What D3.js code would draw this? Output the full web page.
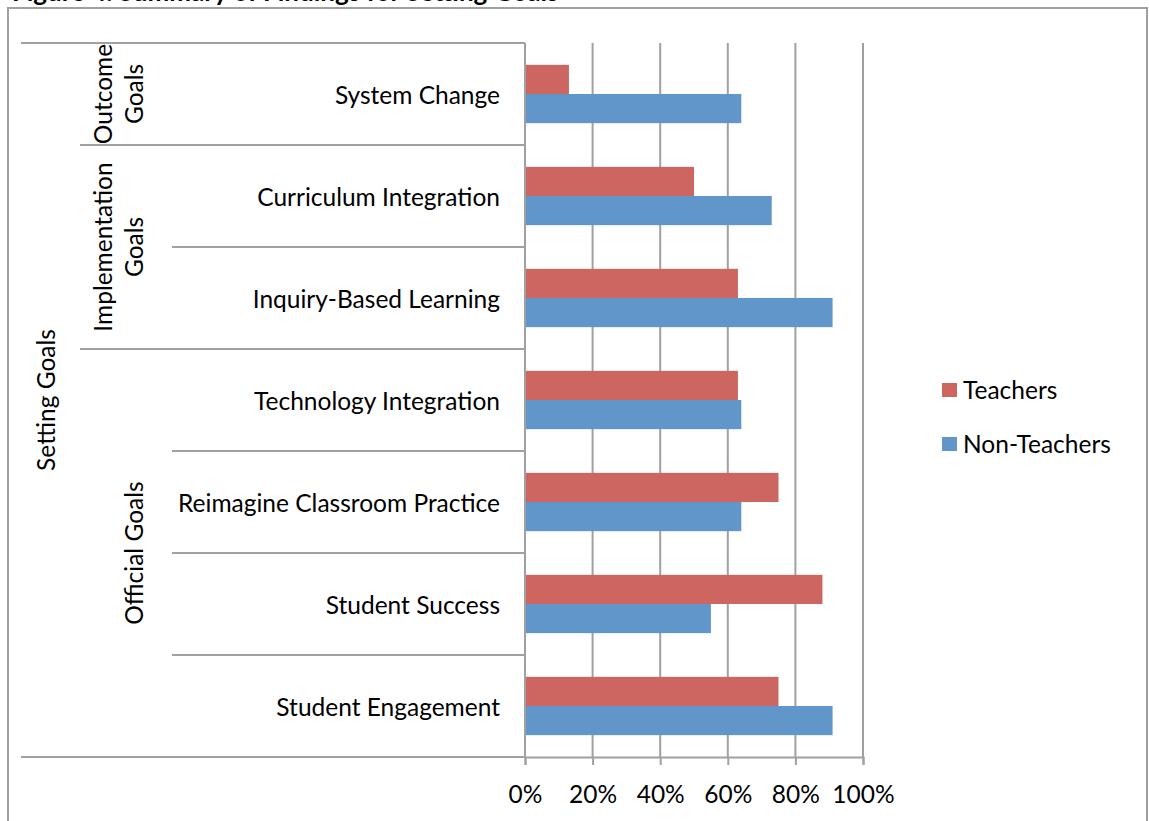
<!DOCTYPE html>
<html>
<head>
<meta charset="utf-8">
<script src="https://cdn.jsdelivr.net/npm/d3@7"></script>
<style>
  body { margin: 0; background: #fff; }
  svg { display: block; font-family: Lato, "Open Sans", sans-serif; }
  .lbl { font-size: 24.5px; fill: #000; }
</style>
</head>
<body>
<script>
// Chart data
var categories = ["System Change", "Curriculum Integration", "Inquiry-Based Learning",
  "Technology Integration", "Reimagine Classroom Practice", "Student Success", "Student Engagement"];
var teachers = [0.13, 0.50, 0.63, 0.63, 0.75, 0.88, 0.75];
var nonTeachers = [0.64, 0.73, 0.91, 0.64, 0.64, 0.55, 0.91];
var seriesNames = ["Teachers", "Non-Teachers"];
var groups = [
  {lines: ["Outcome", "Goals"], first: "System Change", last: "System Change"},
  {lines: ["Implementation", "Goals"], first: "Curriculum Integration", last: "Inquiry-Based Learning"},
  {lines: ["Official Goals"], first: "Technology Integration", last: "Student Engagement"}
];
var outerLabel = "Setting Goals";
var tickValues = [0, 0.2, 0.4, 0.6, 0.8, 1.0];
var title = "Figure 4. Summary of Findings for Setting Goals";

var W = 1149, H = 821;
var colors = {"Teachers": "#cd6560", "Non-Teachers": "#6096c9"};
var gridColor = "#a0a0a0";

var svg = d3.select("body").append("svg")
  .attr("width", W)
  .attr("height", H);

// title sits above the frame, mostly cut off like the source
svg.append("text")
  .attr("x", 12)
  .attr("y", 1)
  .style("font-size", "26px")
  .style("font-weight", "bold")
  .text(title);

// chart frame
svg.append("rect")
  .attr("x", 8).attr("y", 8)
  .attr("width", W - 10).attr("height", H + 20)
  .attr("fill", "#fff")
  .attr("stroke", gridColor)
  .attr("stroke-width", 2);

var plot = {left: 525, right: 863, top: 43, bottom: 757};

var x = d3.scaleLinear().domain([0, 1]).range([plot.left, plot.right]);
var y = d3.scaleBand().domain(categories).range([plot.top, plot.bottom]);
var inner = d3.scaleBand().domain(seriesNames).range([0, y.bandwidth()]).paddingOuter(0.75);

// vertical gridlines
svg.append("g")
  .selectAll("line")
  .data(tickValues)
  .join("line")
    .attr("x1", function(d) { return x(d); })
    .attr("x2", function(d) { return x(d); })
    .attr("y1", plot.top)
    .attr("y2", plot.bottom)
    .attr("stroke", gridColor)
    .attr("stroke-width", 2);

// bars
var rows = categories.map(function(c, i) {
  return {cat: c, values: [{s: "Teachers", v: teachers[i]}, {s: "Non-Teachers", v: nonTeachers[i]}]};
});
var rowG = svg.append("g").selectAll("g")
  .data(rows)
  .join("g")
    .attr("transform", function(d) { return "translate(0," + y(d.cat) + ")"; });
rowG.selectAll("rect")
  .data(function(d) { return d.values; })
  .join("rect")
    .attr("x", x(0) + 1)
    .attr("y", function(d) { return inner(d.s); })
    .attr("width", function(d) { return x(d.v) - x(0) - 1; })
    .attr("height", inner.bandwidth())
    .attr("fill", function(d) { return colors[d.s]; });

// x axis
var xAxis = d3.axisBottom(x)
  .tickValues(tickValues)
  .tickFormat(d3.format(".0%"))
  .tickSize(8)
  .tickPadding(21);
var axG = svg.append("g")
  .attr("transform", "translate(0," + plot.bottom + ")")
  .call(xAxis);
axG.select(".domain").attr("stroke", gridColor).attr("stroke-width", 2);
axG.selectAll(".tick line").attr("stroke", gridColor).attr("stroke-width", 2);
axG.selectAll(".tick text").attr("class", "lbl").attr("fill", "#000")
  .style("font-family", "Lato, 'Open Sans', sans-serif");

// category axis (multi-level)
var catAx = svg.append("g").attr("stroke", gridColor).attr("stroke-width", 2);
catAx.append("line")
  .attr("x1", plot.left).attr("x2", plot.left)
  .attr("y1", plot.top).attr("y2", plot.bottom);
[plot.top, plot.bottom].forEach(function(v) {
  catAx.append("line").attr("x1", 21).attr("x2", plot.left).attr("y1", v).attr("y2", v);
});
var groupStarts = groups.map(function(g) { return g.first; });
categories.forEach(function(c, i) {
  if (i === 0) return;
  var x0 = groupStarts.indexOf(c) >= 0 ? 80 : 172;
  catAx.append("line").attr("x1", x0).attr("x2", plot.left)
    .attr("y1", y(c)).attr("y2", y(c));
});

svg.append("g").selectAll("text")
  .data(categories)
  .join("text")
    .attr("class", "lbl")
    .attr("x", 500)
    .attr("y", function(d) { return y(d) + y.bandwidth() / 2; })
    .attr("dy", "0.4em")
    .attr("text-anchor", "end")
    .text(function(d) { return d; });

// group labels, last line sits next to the category column
groups.forEach(function(g) {
  var cy = (y(g.first) + y(g.last) + y.bandwidth()) / 2;
  var n = g.lines.length;
  g.lines.forEach(function(t, j) {
    var bx = 134 - (n - 1 - j) * 31;
    svg.append("text")
      .attr("class", "lbl")
      .attr("transform", "translate(" + bx + "," + cy + ") rotate(-90)")
      .attr("text-anchor", "middle")
      .attr("dy", "0.35em")
      .text(t);
  });
});

svg.append("text")
  .attr("class", "lbl")
  .attr("transform", "translate(46," + (plot.top + plot.bottom) / 2 + ") rotate(-90)")
  .attr("text-anchor", "middle")
  .attr("dy", "0.35em")
  .text(outerLabel);

// legend
var leg = svg.append("g").selectAll("g")
  .data(seriesNames)
  .join("g")
    .attr("transform", function(d, i) { return "translate(942," + (383 + i * 54) + ")"; });
leg.append("rect")
  .attr("width", 15).attr("height", 14)
  .attr("fill", function(d) { return colors[d]; });
leg.append("text")
  .attr("class", "lbl")
  .attr("x", 21)
  .attr("y", 7)
  .attr("dy", "0.38em")
  .text(function(d) { return d; });
</script>
</body>
</html>
